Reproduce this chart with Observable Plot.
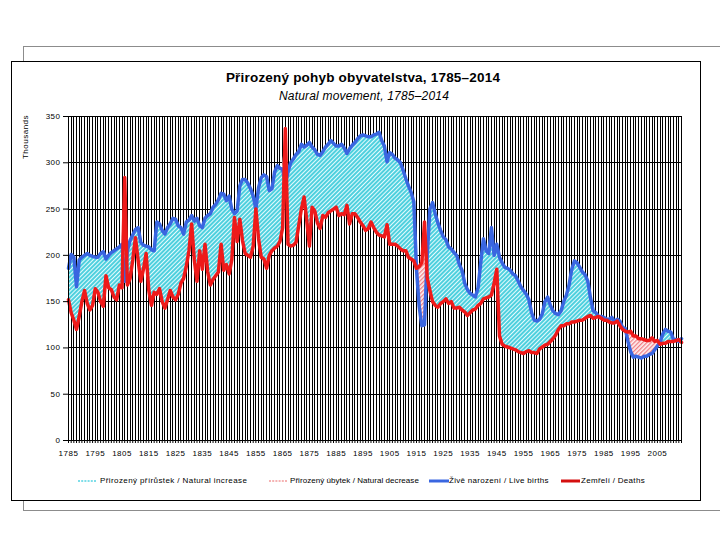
<!DOCTYPE html>
<html><head><meta charset="utf-8">
<script src="https://cdn.jsdelivr.net/npm/d3@7"></script>
<script src="https://cdn.jsdelivr.net/npm/@observablehq/plot@0.6"></script>
<style>
body{margin:0;background:#fff;font-family:"Liberation Sans",Arial,sans-serif;}
#wrap{position:relative;width:720px;height:540px;overflow:hidden;}
.abs{position:absolute;white-space:nowrap;}
.leg{position:absolute;top:476px;font-size:8px;line-height:10px;letter-spacing:0.4px;}
</style></head><body><div id="wrap">
<div class="abs" style="left:23px;top:46px;width:720px;height:463px;border:1px solid #8c8c8c;"></div>
<div class="abs" style="left:11px;top:61px;width:688px;height:438px;border:1.5px solid #000;background:#fff;"></div>
<div id="chart" class="abs" style="left:0;top:0;"></div>
<div class="abs" style="left:0;width:726px;top:70px;text-align:center;font-weight:bold;font-size:13.5px;letter-spacing:0.2px;">Přirozený pohyb obyvatelstva, 1785–2014</div>
<div class="abs" style="left:0;width:728px;top:89px;text-align:center;font-style:italic;font-size:12px;letter-spacing:0.2px;">Natural movement, 1785–2014</div>
<div class="abs" style="left:25px;top:137px;transform:translate(-50%,-50%) rotate(-90deg);font-size:8px;letter-spacing:0.5px;">Thousands</div>
<svg class="abs" style="left:78px;top:477px" width="19" height="8"><line x1="0" y1="4" x2="19" y2="4" stroke="#55d4e2" stroke-width="1.5" stroke-dasharray="2,1.2"/></svg>
<div class="leg" style="left:100px;">Přirozený přírůstek / Natural increase</div>
<svg class="abs" style="left:269px;top:477px" width="19" height="8"><line x1="0" y1="4" x2="19" y2="4" stroke="#f29a9a" stroke-width="1.5" stroke-dasharray="2,1.2"/></svg>
<div class="leg" style="left:290px;letter-spacing:0.05px;">Přirozený úbytek / Natural decrease</div>
<svg class="abs" style="left:429px;top:477px" width="20" height="8"><line x1="0" y1="4" x2="20" y2="4" stroke="#3a66e0" stroke-width="3"/></svg>
<div class="leg" style="left:449px;letter-spacing:0.3px;">Živě narození / Live births</div>
<svg class="abs" style="left:561px;top:477px" width="19" height="8"><line x1="0" y1="4" x2="19" y2="4" stroke="#d40f0f" stroke-width="3"/></svg>
<div class="leg" style="left:581px;letter-spacing:0.3px;">Zemřelí / Deaths</div>
</div>
<script>
// Years 1785–2014 (categories)
const years = d3.range(1785, 2015);
const labelYears = [1785,1795,1805,1815,1825,1835,1845,1855,1865,1875,1885,1895,1905,1915,1925,1935,1945,1955,1965,1975,1985,1995,2005];
const yTicks = [0,50,100,150,200,250,300,350];

// Live births (thousands)
const births = [
  186,201,198,166,195,198,200,202,200,199,
  198,198,202,204,196,200,203,205,207,209,
  212,172,205,216,222,228,230,214,211,210,
  209,206,205,236,234,227,223,230,234,240,
  239,232,230,223,236,238,243,237,240,232,
  230,240,243,245,252,255,260,267,266,259,
  264,250,245,248,275,282,282,278,272,264,
  250,273,284,287,285,270,272,290,297,294,
  293,277,290,300,304,309,312,320,317,319,
  322,317,314,309,308,312,317,320,324,321,
  318,318,320,316,310,315,319,322,326,329,
  330,329,328,328,330,331,333,324,318,301,
  311,309,305,303,300,292,283,275,268,258,
  185,145,124,125,200,250,257,245,235,227,
  220,217,209,207,203,200,190,184,170,163,
  159,157,155,165,192,218,205,202,230,200,
  212,198,192,187,186,184,180,178,172,166,
  162,158,152,138,130,129,131,137,150,155,
  146,140,137,136,140,150,157,168,185,194,
  192,187,182,179,172,154,140,138,134,134,
  133,131,131,133,128,131,129,122,121,107,
  96,90,91,90,89,91,91,93,94,98,
  102,106,115,120,118,117,109,109,107,110
];

// Deaths (thousands)
const deaths = [
  152,138,130,120,134,150,162,148,141,146,
  164,160,150,145,178,165,163,155,152,168,
  165,284,168,175,195,219,195,172,185,202,
  162,146,160,158,164,150,143,152,162,155,
  152,158,170,175,188,205,234,195,172,205,
  185,212,182,168,174,178,182,212,184,190,
  180,195,241,215,239,216,202,200,198,210,
  250,218,198,196,186,200,205,208,210,215,
  230,337,212,210,211,214,232,250,263,238,
  210,252,248,235,229,243,241,246,248,250,
  252,243,245,244,254,234,245,245,241,236,
  232,227,229,236,230,225,222,221,220,233,
  212,212,212,210,207,205,205,198,196,194,
  186,188,192,236,176,162,150,146,144,148,
  150,153,148,150,143,143,144,141,139,135,
  138,141,142,146,148,153,154,155,157,170,
  185,113,104,102,101,100,99,98,96,95,
  94,96,97,95,95,94,99,101,103,104,
  107,110,114,120,124,124,126,126,128,128,
  129,130,130,132,134,135,132,133,134,132,
  130,130,128,127,127,129,124,120,118,117,
  118,113,113,110,110,109,108,108,111,107,
  108,104,105,105,107,107,107,108,109,106
];

const data = years.map((year, i) => ({year, births: births[i], deaths: deaths[i]}));

const chart = Plot.plot({
  width: 720, height: 540,
  marginLeft: 68, marginRight: 39, marginTop: 116, marginBottom: 100,
  style: {background: "transparent", fontFamily: "Liberation Sans, Arial, sans-serif", fontSize: "8px", color: "#000", letterSpacing: "0.5px"},
  x: {domain: [1785, 2014]},
  y: {domain: [0, 350]},
  marks: [
    Plot.ruleX(years, {x: d => d, stroke: "#000", strokeWidth: 1, shapeRendering: "crispEdges"}),
    Plot.ruleY(yTicks, {y: d => d, stroke: "#000", strokeWidth: 1, shapeRendering: "crispEdges"}),
    Plot.areaY(data, {x: "year", y1: "deaths", y2: d => Math.max(d.births, d.deaths), fill: "url(#hatchUp)"}),
    Plot.areaY(data, {x: "year", y1: "births", y2: d => Math.max(d.births, d.deaths), fill: "url(#hatchDown)"}),
    Plot.lineY(data, {x: "year", y: "births", stroke: "#3a66e0", strokeWidth: 3.5}),
    Plot.lineY(data, {x: "year", y: "deaths", stroke: "#ee1a1a", strokeWidth: 3.5}),
    Plot.frame({stroke: "#000", strokeWidth: 1}),
    Plot.axisY({ticks: yTicks, tickSize: 5, tickPadding: 3, tickFormat: d => String(d), label: null, fontSize: 8}),
    Plot.axisX({ticks: years, tickSize: 3, tickFormat: () => "", label: null}),
    Plot.axisX({ticks: labelYears, tickSize: 0, tickPadding: 10, tickFormat: d => String(d), label: null, fontSize: 8})
  ]
});

const ns = "http://www.w3.org/2000/svg";
const defs = document.createElementNS(ns, "defs");
defs.innerHTML = `
<pattern id="hatchUp" patternUnits="userSpaceOnUse" width="3" height="3" patternTransform="rotate(45)">
  <rect width="3" height="3" fill="#4fd0de"/>
  <rect x="0" y="0" width="1" height="3" fill="#e6fbfd"/>
</pattern>
<pattern id="hatchDown" patternUnits="userSpaceOnUse" width="3" height="3" patternTransform="rotate(45)">
  <rect width="3" height="3" fill="#fff2f2"/>
  <rect x="0" y="0" width="1.3" height="3" fill="#f07f86"/>
</pattern>`;
chart.insertBefore(defs, chart.firstChild);
document.getElementById("chart").appendChild(chart);
</script>
</body></html>
